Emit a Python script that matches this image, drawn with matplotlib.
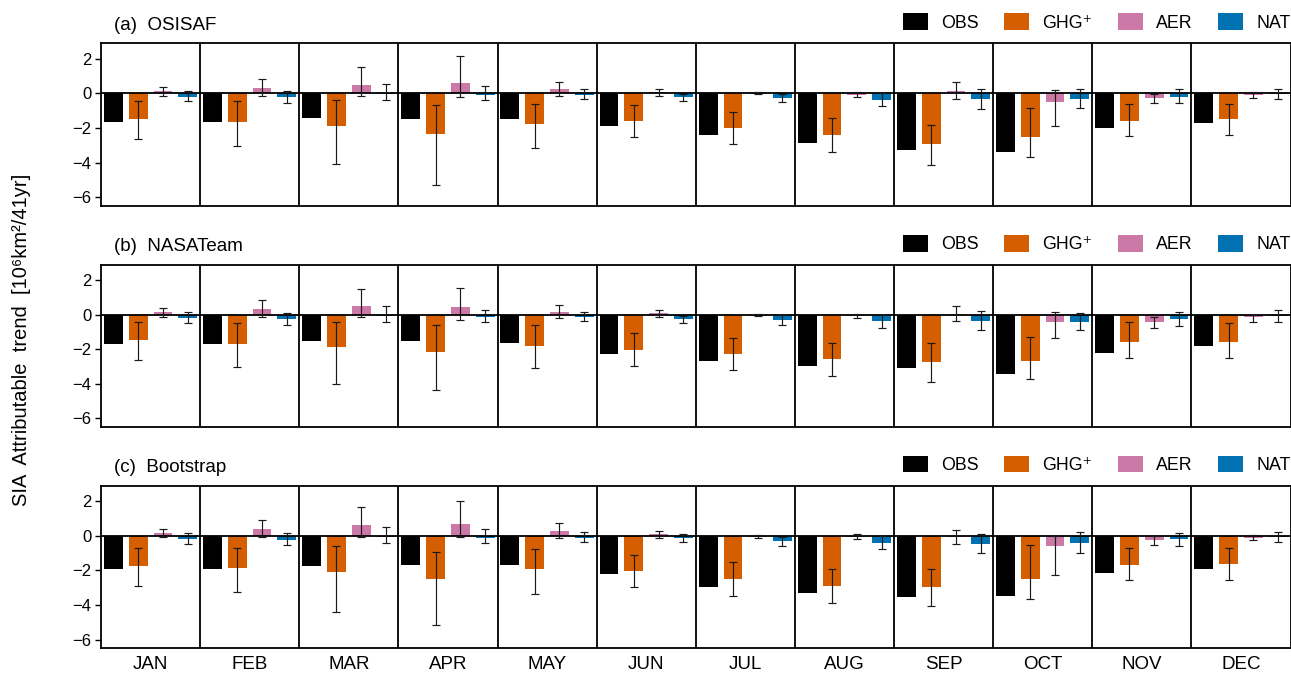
import numpy as np
import matplotlib
matplotlib.use("Agg")
import matplotlib.pyplot as plt
from matplotlib.patches import Patch

plt.rcParams["font.family"] = ["Liberation Sans", "DejaVu Sans"]

months = ["JAN", "FEB", "MAR", "APR", "MAY", "JUN",
          "JUL", "AUG", "SEP", "OCT", "NOV", "DEC"]
series_labels = ["OBS", "GHG\u207a", "AER", "NAT"]
series_colors = ["#000000", "#D55E00", "#CC79A7", "#0072B2"]
panel_titles = ["(a)  OSISAF", "(b)  NASATeam", "(c)  Bootstrap"]
yticks = [-6, -4, -2, 0, 2]

# ---- (a) OSISAF ----
osisaf_obs = [-1.64, -1.66, -1.45, -1.49, -1.51, -1.87, -2.40, -2.86, -3.29, -3.42, -2.01, -1.74]
osisaf_ghg = [-1.51, -1.68, -1.89, -2.34, -1.78, -1.60, -2.01, -2.43, -2.92, -2.55, -1.58, -1.51]
osisaf_ghg_lo = [-2.65, -3.05, -4.10, -5.31, -3.17, -2.51, -2.92, -3.38, -4.14, -3.67, -2.47, -2.42]
osisaf_ghg_hi = [-0.46, -0.44, -0.41, -0.70, -0.60, -0.66, -1.06, -1.45, -1.82, -0.87, -0.60, -0.64]
osisaf_aer = [0.15, 0.33, 0.50, 0.60, 0.23, 0.06, -0.03, -0.10, 0.14, -0.50, -0.29, -0.12]
osisaf_aer_lo = [-0.13, -0.13, -0.17, -0.19, -0.17, -0.17, -0.06, -0.23, -0.31, -1.91, -0.58, -0.27]
osisaf_aer_hi = [0.37, 0.85, 1.53, 2.16, 0.68, 0.23, 0.06, 0.06, 0.64, 0.17, -0.06, 0.06]
osisaf_nat = [-0.19, -0.23, -0.04, -0.10, -0.10, -0.23, -0.27, -0.37, -0.35, -0.35, -0.19, -0.04]
osisaf_nat_lo = [-0.46, -0.54, -0.37, -0.39, -0.33, -0.43, -0.52, -0.75, -0.89, -0.87, -0.56, -0.35]
osisaf_nat_hi = [0.15, 0.15, 0.54, 0.43, 0.23, -0.04, -0.02, 0.04, 0.25, 0.23, 0.23, 0.27]

# ---- (b) NASATeam ----
nasa_obs = [-1.70, -1.72, -1.49, -1.49, -1.64, -2.28, -2.69, -3.00, -3.11, -3.46, -2.20, -1.82]
nasa_ghg = [-1.47, -1.68, -1.87, -2.16, -1.80, -2.03, -2.28, -2.57, -2.72, -2.67, -1.57, -1.57]
nasa_ghg_lo = [-2.61, -3.05, -4.02, -4.37, -3.09, -2.98, -3.23, -3.54, -3.90, -3.73, -2.53, -2.53]
nasa_ghg_hi = [-0.41, -0.46, -0.41, -0.56, -0.60, -1.08, -1.33, -1.62, -1.66, -1.28, -0.41, -0.48]
nasa_aer = [0.14, 0.33, 0.50, 0.48, 0.19, 0.10, -0.05, -0.08, 0.05, -0.41, -0.41, -0.15]
nasa_aer_lo = [-0.15, -0.14, -0.15, -0.27, -0.17, -0.14, -0.08, -0.21, -0.33, -1.37, -0.77, -0.44]
nasa_aer_hi = [0.41, 0.85, 1.51, 1.57, 0.58, 0.29, 0.08, 0.08, 0.54, 0.17, -0.15, 0.02]
nasa_nat = [-0.19, -0.25, -0.06, -0.10, -0.12, -0.25, -0.29, -0.37, -0.37, -0.43, -0.23, -0.06]
nasa_nat_lo = [-0.46, -0.56, -0.39, -0.39, -0.37, -0.46, -0.56, -0.75, -0.89, -0.89, -0.66, -0.43]
nasa_nat_hi = [0.15, 0.12, 0.52, 0.29, 0.17, -0.04, -0.02, 0.00, 0.21, 0.10, 0.19, 0.31]

# ---- (c) Bootstrap ----
boot_obs = [-1.89, -1.93, -1.74, -1.70, -1.70, -2.22, -2.96, -3.32, -3.56, -3.48, -2.16, -1.91]
boot_ghg = [-1.76, -1.87, -2.09, -2.49, -1.93, -2.01, -2.49, -2.90, -2.98, -2.51, -1.68, -1.64]
boot_ghg_lo = [-2.90, -3.27, -4.43, -5.16, -3.34, -2.96, -3.46, -3.86, -4.06, -3.65, -2.55, -2.55]
boot_ghg_hi = [-0.70, -0.68, -0.60, -0.95, -0.75, -1.08, -1.49, -1.93, -1.91, -0.54, -0.72, -0.73]
boot_aer = [0.15, 0.39, 0.60, 0.70, 0.29, 0.10, -0.04, -0.08, -0.06, -0.60, -0.23, -0.14]
boot_aer_lo = [-0.06, -0.06, -0.08, -0.08, -0.12, -0.14, -0.10, -0.21, -0.48, -2.24, -0.52, -0.25]
boot_aer_hi = [0.41, 0.91, 1.68, 1.99, 0.73, 0.29, 0.06, 0.08, 0.35, 0.00, 0.00, 0.06]
boot_nat = [-0.16, -0.23, -0.08, -0.10, -0.10, -0.15, -0.29, -0.39, -0.48, -0.43, -0.21, -0.08]
boot_nat_lo = [-0.46, -0.54, -0.43, -0.41, -0.35, -0.35, -0.60, -0.77, -1.00, -0.97, -0.60, -0.35]
boot_nat_hi = [0.15, 0.15, 0.54, 0.37, 0.25, 0.08, -0.04, 0.02, 0.08, 0.21, 0.19, 0.25]

panels = [
    ([osisaf_obs, osisaf_ghg, osisaf_aer, osisaf_nat],
     [None, (osisaf_ghg_lo, osisaf_ghg_hi), (osisaf_aer_lo, osisaf_aer_hi), (osisaf_nat_lo, osisaf_nat_hi)]),
    ([nasa_obs, nasa_ghg, nasa_aer, nasa_nat],
     [None, (nasa_ghg_lo, nasa_ghg_hi), (nasa_aer_lo, nasa_aer_hi), (nasa_nat_lo, nasa_nat_hi)]),
    ([boot_obs, boot_ghg, boot_aer, boot_nat],
     [None, (boot_ghg_lo, boot_ghg_hi), (boot_aer_lo, boot_aer_hi), (boot_nat_lo, boot_nat_hi)]),
]

W, H = 1291, 676
fig = plt.figure(figsize=(W / 100, H / 100), dpi=100)

left, right = 101 / W, 1290.5 / W
tops = [43.3, 265.0, 485.7]
bottoms = [205.7, 426.7, 648.3]

n = len(months)
base = np.arange(n)
bar_w = 0.19

for p, ((vals, ranges), title) in enumerate(zip(panels, panel_titles)):
    y0 = 1 - bottoms[p] / H
    h = (bottoms[p] - tops[p]) / H
    ax = fig.add_axes([left, y0, right - left, h])

    for k, (v, rng, col) in enumerate(zip(vals, ranges, series_colors)):
        x = base + 0.125 + 0.25 * k
        ax.bar(x, v, width=bar_w, color=col, edgecolor="none", zorder=2)
        if rng is not None:
            lo, hi = np.asarray(rng[0]), np.asarray(rng[1])
            ax.errorbar(x, (lo + hi) / 2, yerr=(hi - lo) / 2, fmt="none",
                        ecolor="#1a1a1a", elinewidth=0.85, capsize=2.8,
                        capthick=0.85, zorder=4)

    ax.axhline(0, color="black", lw=1.3, zorder=3)
    for i in range(1, n):
        ax.axvline(i, color="black", lw=1.3, zorder=5)

    ax.set_xlim(0, n)
    ax.set_ylim(-6.5, 2.9)
    ax.set_yticks(yticks)
    ax.tick_params(axis="y", direction="out", length=4, width=1.0,
                   labelsize=12, pad=3)
    for s in ax.spines.values():
        s.set_linewidth(1.3)

    if p == 2:
        ax.set_xticks(base + 0.5)
        ax.set_xticklabels(months, fontsize=13.5)
        ax.tick_params(axis="x", length=0, pad=5.5)
    else:
        ax.set_xticks([])

    ax.annotate(title, xy=(0, 1), xycoords="axes fraction",
                xytext=(9.5, 13.0), textcoords="offset points",
                ha="left", va="center", fontsize=13.5)

    handles = [Patch(facecolor=c, edgecolor="none") for c in series_colors]
    ax.legend(handles, series_labels, loc="center right",
              bbox_to_anchor=(1.0, 1 + 20.8 / (bottoms[p] - tops[p])),
              ncol=4, frameon=False, fontsize=12.8, borderpad=0,
              borderaxespad=0, handlelength=1.38, handleheight=1.05,
              handletextpad=0.75, columnspacing=1.45)

fig.text(0.0165, 0.497, "SIA  Attributable  trend  [10\u2076km\u00b2/41yr]",
         rotation=90, ha="center", va="center", fontsize=14.5)

fig.savefig("out.png", dpi=100)
